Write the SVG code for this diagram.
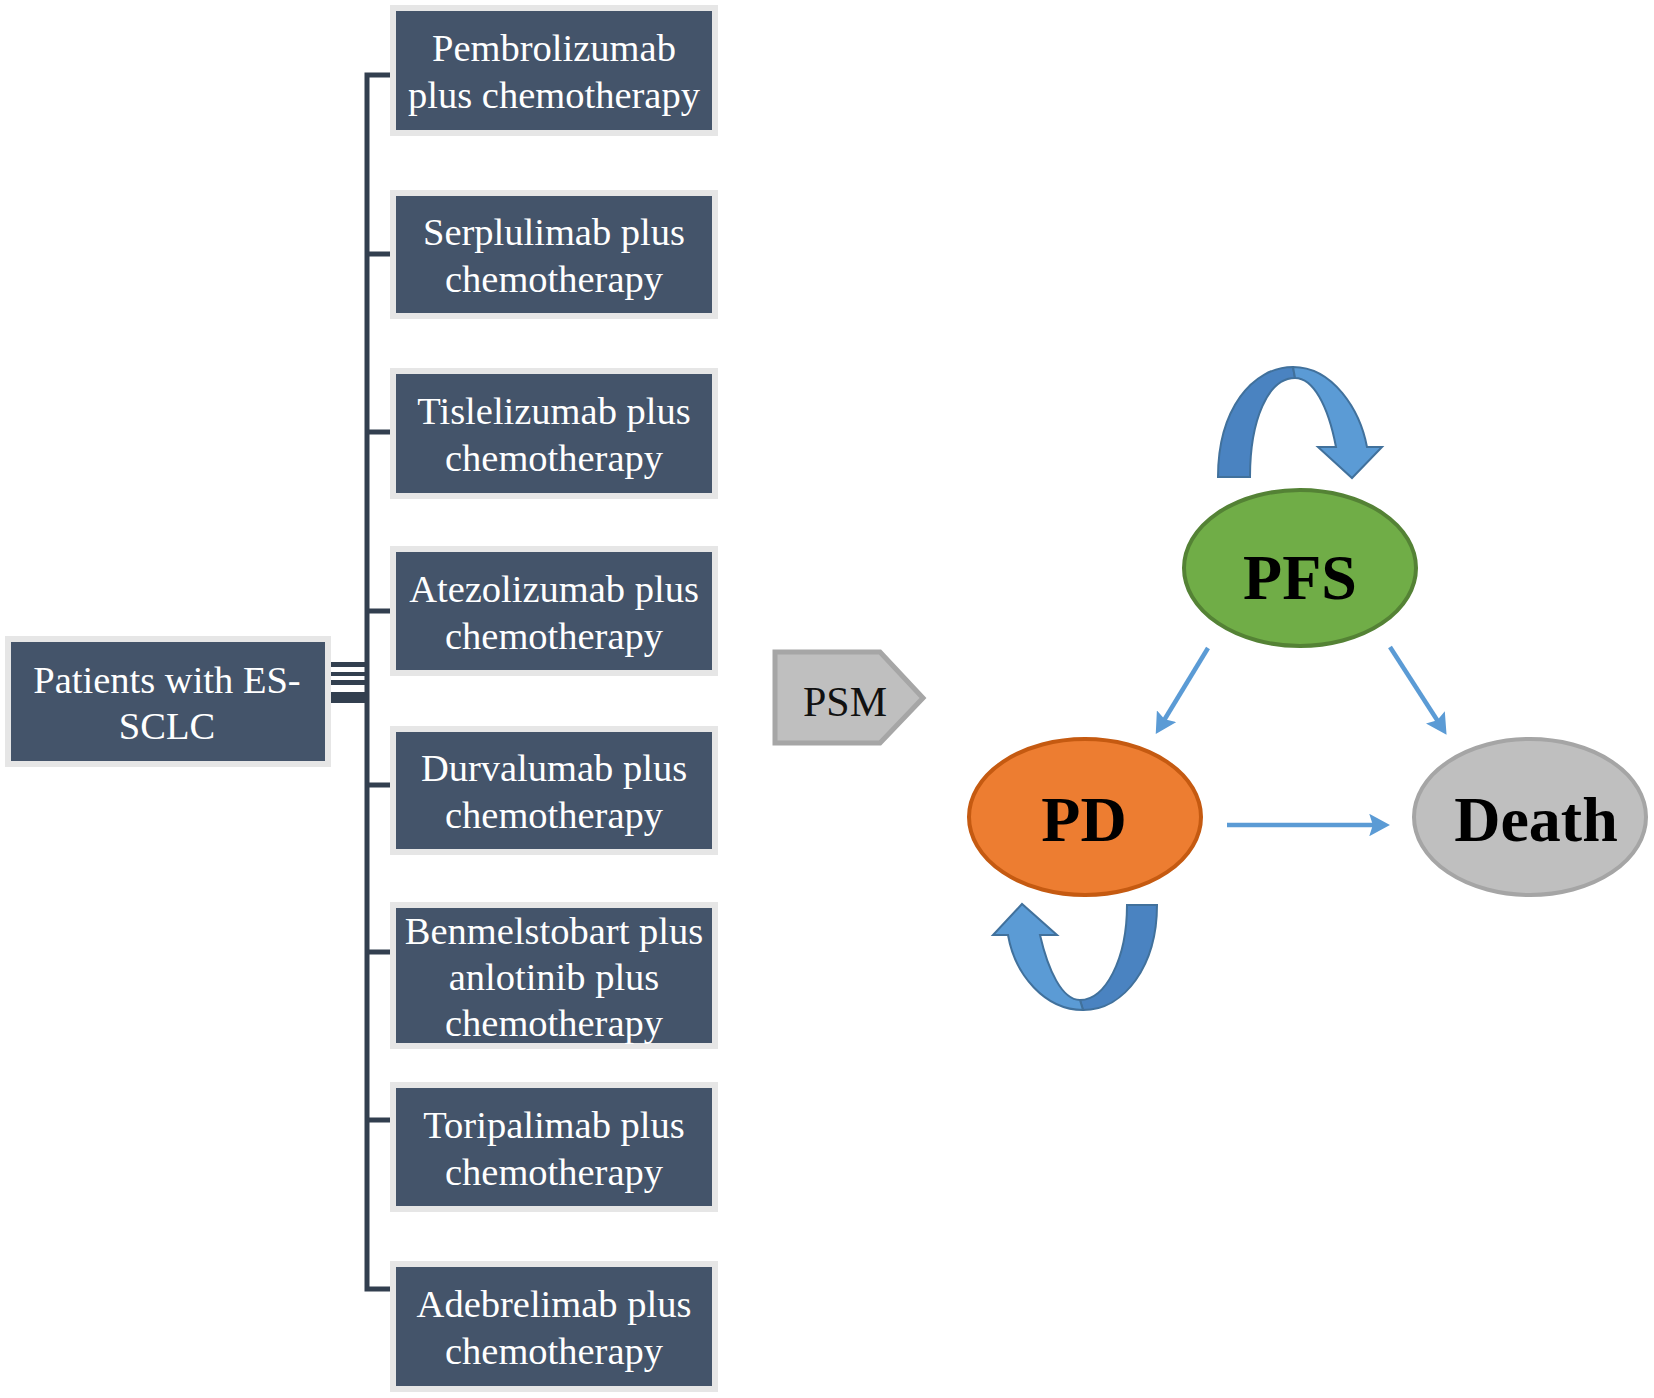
<svg xmlns="http://www.w3.org/2000/svg" width="1654" height="1398" viewBox="0 0 1654 1398">
<style>
.box{fill:#44546a;stroke:#e6e6e6;stroke-width:6}
.bt{font-family:"Liberation Serif","Times New Roman",serif;font-size:38.5px;fill:#ffffff;text-anchor:middle}
.tree{fill:none;stroke:#323f4f;stroke-width:5}
.st{font-family:"Liberation Serif","Times New Roman",serif;font-size:64px;font-weight:bold;fill:#000000;text-anchor:middle}
.thin{stroke:#5b9bd5;stroke-width:4.5;fill:none}
</style>
<defs>
<marker id="ah" markerUnits="strokeWidth" markerWidth="5" markerHeight="5" refX="1.5" refY="2.5" orient="auto">
<path d="M0,0 L4.6,2.5 L0,5 L0.8,2.5 z" fill="#5b9bd5"/>
</marker>
</defs>
<rect width="1654" height="1398" fill="#ffffff"/>

<g id="connectors">
<path class="tree" d="M392,75 H367 V1289 H392"/>
<path class="tree" d="M367,254 H392 M367,432 H392 M367,611 H392 M367,785 H392 M367,952 H392 M367,1120 H392"/>
<g fill="#323f4f">
<rect x="330" y="662" width="37" height="5"/>
<rect x="330" y="672" width="37" height="4"/>
<rect x="330" y="680" width="37" height="5"/>
<rect x="330" y="692" width="37" height="11"/>
</g>
<line class="thin" x1="1208" y1="648" x2="1163" y2="722" marker-end="url(#ah)"/>
<line class="thin" x1="1390" y1="647" x2="1439" y2="723" marker-end="url(#ah)"/>
<line class="thin" x1="1227" y1="825" x2="1376" y2="825" marker-end="url(#ah)"/>
<g id="loop-pfs">
<path d="M1218,477 C1218,410 1252,367 1293,367 L1295,378 C1268,378 1250,420 1250,477 Z" fill="#4a83c1" stroke="#41719c" stroke-width="2"/>
<path d="M1293,367 C1333,367 1360,410 1367,447 L1382,447 L1352,478 L1318,447 L1336,447 C1328,405 1313,378 1295,378 Z" fill="#5b9bd5" stroke="#41719c" stroke-width="2"/>
</g>
<g id="loop-pd">
<path d="M1127,905 L1157,905 C1157,965 1125,1010 1083,1010 L1080,1000 C1105,1000 1127,960 1127,905 Z" fill="#4a83c1" stroke="#41719c" stroke-width="2"/>
<path d="M1083,1010 C1045,1010 1015,975 1008,935 L993,935 L1022,904 L1057,935 L1040,935 C1048,970 1062,1000 1080,1000 Z" fill="#5b9bd5" stroke="#41719c" stroke-width="2"/>
</g>
</g>

<g id="patients">
<rect class="box" x="8" y="639" width="320" height="125"/>
<text class="bt" x="167" y="693">Patients with ES-</text>
<text class="bt" x="167" y="739">SCLC</text>
</g>

<g id="pembrolizumab">
<rect class="box" x="393" y="8" width="322" height="125"/>
<text class="bt" x="554" y="61">Pembrolizumab</text>
<text class="bt" x="554" y="108">plus chemotherapy</text>
</g>
<g id="serplulimab">
<rect class="box" x="393" y="193" width="322" height="123"/>
<text class="bt" x="554" y="245">Serplulimab plus</text>
<text class="bt" x="554" y="292">chemotherapy</text>
</g>
<g id="tislelizumab">
<rect class="box" x="393" y="371" width="322" height="125"/>
<text class="bt" x="554" y="424">Tislelizumab plus</text>
<text class="bt" x="554" y="471">chemotherapy</text>
</g>
<g id="atezolizumab">
<rect class="box" x="393" y="549" width="322" height="124"/>
<text class="bt" x="554" y="602">Atezolizumab plus</text>
<text class="bt" x="554" y="649">chemotherapy</text>
</g>
<g id="durvalumab">
<rect class="box" x="393" y="729" width="322" height="123"/>
<text class="bt" x="554" y="781">Durvalumab plus</text>
<text class="bt" x="554" y="828">chemotherapy</text>
</g>
<g id="benmelstobart">
<rect class="box" x="393" y="905" width="322" height="141"/>
<text class="bt" x="554" y="944">Benmelstobart plus</text>
<text class="bt" x="554" y="990">anlotinib plus</text>
<text class="bt" x="554" y="1036">chemotherapy</text>
</g>
<g id="toripalimab">
<rect class="box" x="393" y="1085" width="322" height="124"/>
<text class="bt" x="554" y="1138">Toripalimab plus</text>
<text class="bt" x="554" y="1185">chemotherapy</text>
</g>
<g id="adebrelimab">
<rect class="box" x="393" y="1264" width="322" height="125"/>
<text class="bt" x="554" y="1317">Adebrelimab plus</text>
<text class="bt" x="554" y="1364">chemotherapy</text>
</g>

<g id="psm">
<path d="M775,652 H880 L923,698 L880,743 H775 Z" fill="#bfbfbf" stroke="#a6a6a6" stroke-width="5"/>
<text x="845" y="716" font-family="Liberation Serif, Times New Roman, serif" font-size="42" fill="#111111" text-anchor="middle">PSM</text>
</g>

<g id="pfs">
<ellipse cx="1300" cy="568" rx="116" ry="78" fill="#70ad47" stroke="#548235" stroke-width="4"/>
<text class="st" x="1300" y="599">PFS</text>
</g>
<g id="pd">
<ellipse cx="1085" cy="817" rx="116" ry="78" fill="#ed7d31" stroke="#c55a11" stroke-width="4"/>
<text class="st" x="1084" y="841">PD</text>
</g>
<g id="death">
<ellipse cx="1530" cy="817" rx="116" ry="78" fill="#bfbfbf" stroke="#a5a5a5" stroke-width="4"/>
<text class="st" x="1536" y="841">Death</text>
</g>
</svg>
